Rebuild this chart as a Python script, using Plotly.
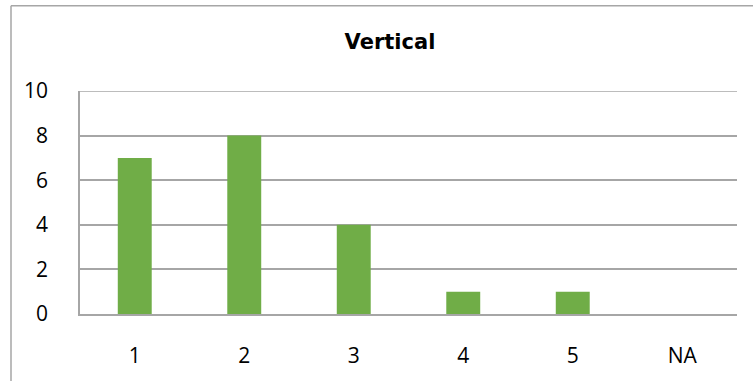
import plotly.graph_objects as go

categories = ["1", "2", "3", "4", "5", "NA"]
values = [7, 8, 4, 1, 1, 0]
y_ticks = [0, 2, 4, 6, 8, 10]

W, H = 753, 381
L, R, T, B = 80, 16, 91, 65
pw, ph = W - L - R, H - T - B
grid = "#A6A6A6"

fig = go.Figure(go.Bar(x=categories, y=values, marker=dict(color="#70AD47", line=dict(width=0))))

fig.update_layout(
    width=W, height=H,
    margin=dict(l=L, r=R, t=T, b=B, pad=0),
    plot_bgcolor="white", paper_bgcolor="white",
    bargap=0.69,
    showlegend=False,
    font=dict(family="Open Sans", size=21, color="black"),
    title=dict(text="<b>Vertical</b>", x=(390 - L) / pw, xref="paper", xanchor="center",
               y=1 - 42 / H, yanchor="middle",
               font=dict(family="DejaVu Sans", size=21, color="black")),
)
fig.update_xaxes(type="category", showline=True, linecolor=grid, linewidth=1.5,
                 ticks="", ticklabelstandoff=22, showgrid=False)
fig.update_yaxes(range=[0, y_ticks[-1]], tickvals=y_ticks, showgrid=True, gridcolor=grid, gridwidth=1.5,
                 showline=True, linecolor=grid, linewidth=1.5, ticks="",
                 ticklabelstandoff=26, zeroline=False)

# top gridline at the axis maximum
fig.add_shape(type="line", xref="paper", yref="y", x0=0, x1=1, y0=y_ticks[-1], y1=y_ticks[-1],
              line=dict(color=grid, width=1.5))
# chart-area border (left and top edges; right/bottom fall outside the crop)
bx0 = (11 - L) / pw
by1 = 1 + (T - 5) / ph
fig.add_shape(type="line", xref="paper", yref="paper", x0=bx0, x1=bx0, y0=by1, y1=-(B + 10) / ph,
              line=dict(color=grid, width=1.5))
fig.add_shape(type="line", xref="paper", yref="paper", x0=bx0, x1=1 + (R + 10) / pw, y0=by1, y1=by1,
              line=dict(color=grid, width=1.5))

fig.write_html("out.html")
